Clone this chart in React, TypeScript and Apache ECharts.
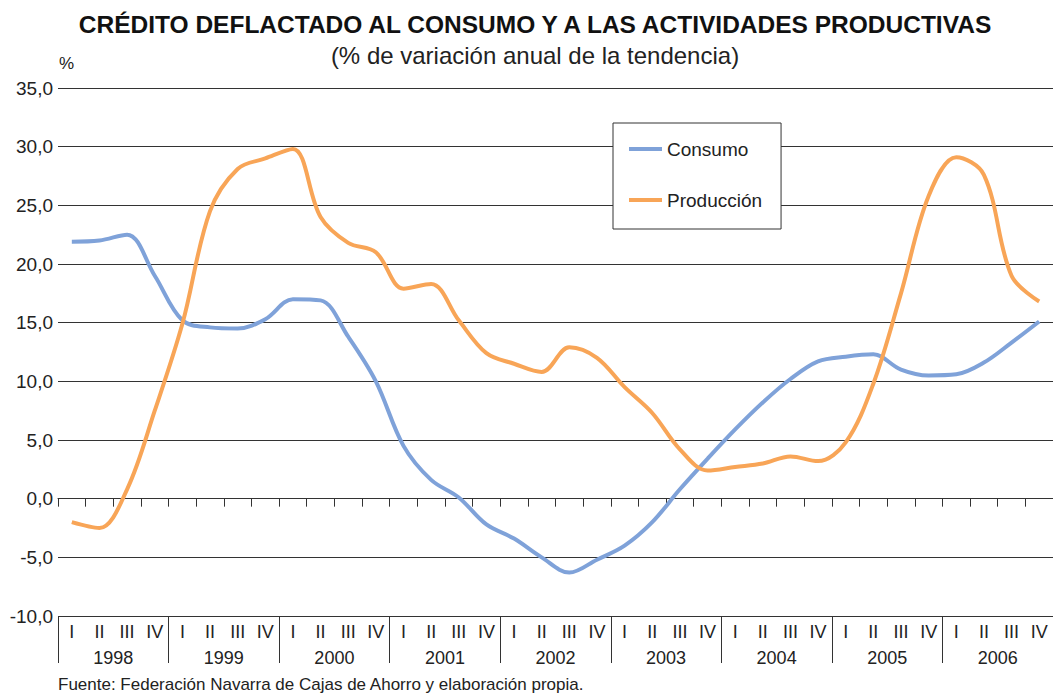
import React, { useEffect, useRef } from "react";
import * as echarts from "echarts";

const years = ["1998", "1999", "2000", "2001", "2002", "2003", "2004", "2005", "2006"];
const quarterNames = ["I", "II", "III", "IV"];
const quarters: string[] = years.flatMap(() => quarterNames);

const consumo = [
  21.9, 22.0, 22.5, 19.0,
  15.2, 14.6, 14.5, 15.3,
  17.0, 16.9, 13.8, 10.0,
  4.5, 1.6, 0.1, -2.2,
  -3.4, -5.0, -6.3, -5.2,
  -4.0, -2.0, 0.8, 3.4,
  5.9, 8.2, 10.2, 11.7,
  12.1, 12.3, 11.0, 10.5,
  10.6, 11.6, 13.3, 15.1,
];

const produccion = [
  -2.0, -2.5, 0.8, 7.5,
  14.9, 24.5, 28.1, 29.0,
  29.8, 24.0, 21.8, 21.0,
  17.9, 18.3, 15.2, 12.4,
  11.5, 10.8, 12.9, 12.0,
  9.5, 7.3, 4.2, 2.4,
  2.7, 3.0, 3.6, 3.2,
  4.8, 9.8, 17.5, 25.8,
  29.1, 27.6, 19.0, 16.8,
];

const FONT = "'Liberation Sans', Arial, Helvetica, sans-serif";
const NARROW = "'Liberation Sans Narrow', 'Liberation Sans', Arial, sans-serif";

export default function App() {
  const ref = useRef<HTMLDivElement>(null);
  useEffect(() => {
    if (!ref.current) return;
    const chart = echarts.init(ref.current, null, { renderer: "svg" });
    chart.setOption({
      animation: false,
      backgroundColor: "#ffffff",
      textStyle: { fontFamily: FONT },
      title: [
        {
          text: "CRÉDITO DEFLACTADO AL CONSUMO Y A LAS ACTIVIDADES PRODUCTIVAS",
          left: 535,
          top: 12,
          textAlign: "center",
          padding: 0,
          textStyle: { fontFamily: FONT, fontSize: 24.5, fontWeight: "bold", color: "#111" },
        },
        {
          text: "(% de variación anual de la tendencia)",
          left: 535,
          top: 43,
          textAlign: "center",
          padding: 0,
          textStyle: { fontFamily: FONT, fontSize: 24, fontWeight: "normal", color: "#222" },
        },
      ],
      legend: {
        data: ["Consumo", "Producción"],
        orient: "vertical",
        left: 613,
        top: 123,
        padding: [16.5, 19, 19.5, 16],
        itemGap: 32,
        itemWidth: 33,
        itemHeight: 4,
        icon: "rect",
        backgroundColor: "#ffffff",
        borderColor: "#333",
        borderWidth: 1,
        textStyle: { fontFamily: FONT, fontSize: 19, color: "#222" },
      },
      grid: { left: 58, top: 88, width: 999, height: 528, containLabel: false },
      xAxis: [
        {
          type: "category",
          data: quarters,
          boundaryGap: true,
          position: "bottom",
          axisLine: { show: true, lineStyle: { color: "#333", width: 1 } },
          axisTick: { show: true, length: 8, interval: 0, lineStyle: { color: "#333" } },
          axisLabel: { interval: 0, margin: 7, fontSize: 18, color: "#222", fontFamily: NARROW },
          splitLine: { show: false },
        },
        {
          type: "category",
          data: years,
          boundaryGap: true,
          position: "bottom",
          axisLine: { show: false },
          axisTick: { show: true, length: 47, interval: 0, lineStyle: { color: "#333" } },
          axisLabel: { interval: 0, margin: 33, fontSize: 18, color: "#222", fontFamily: FONT },
          splitLine: { show: false },
        },
      ],
      yAxis: {
        type: "value",
        min: -10,
        max: 35,
        interval: 5,
        axisLine: { show: false },
        axisTick: { show: false },
        axisLabel: {
          margin: 5,
          fontSize: 19,
          color: "#222",
          fontFamily: FONT,
          formatter: (v: number) => v.toFixed(1).replace(".", ","),
        },
        splitLine: { show: true, lineStyle: { color: "#333", width: 1 } },
      },
      graphic: [
        {
          type: "text",
          left: 59,
          top: 55,
          style: { text: "%", fontSize: 17, fill: "#222", fontFamily: FONT },
        },
        {
          type: "text",
          left: 58,
          top: 676,
          style: {
            text: "Fuente: Federación Navarra de Cajas de Ahorro y elaboración propia.",
            fontSize: 17,
            fill: "#222",
            fontFamily: FONT,
          },
        },
      ],
      series: [
        {
          name: "Consumo",
          type: "line",
          xAxisIndex: 0,
          data: consumo,
          smooth: 0.35,
          showSymbol: false,
          symbol: "none",
          lineStyle: { width: 4, color: "#7FA2D9" },
          itemStyle: { color: "#7FA2D9" },
        },
        {
          name: "Producción",
          type: "line",
          xAxisIndex: 0,
          data: produccion,
          smooth: 0.35,
          showSymbol: false,
          symbol: "none",
          lineStyle: { width: 4, color: "#F8A557" },
          itemStyle: { color: "#F8A557" },
        },
      ],
    });
    return () => chart.dispose();
  }, []);
  return (
    <div
      ref={ref}
      style={{ position: "absolute", left: 0, top: 0, width: 1053, height: 695 }}
    />
  );
}
